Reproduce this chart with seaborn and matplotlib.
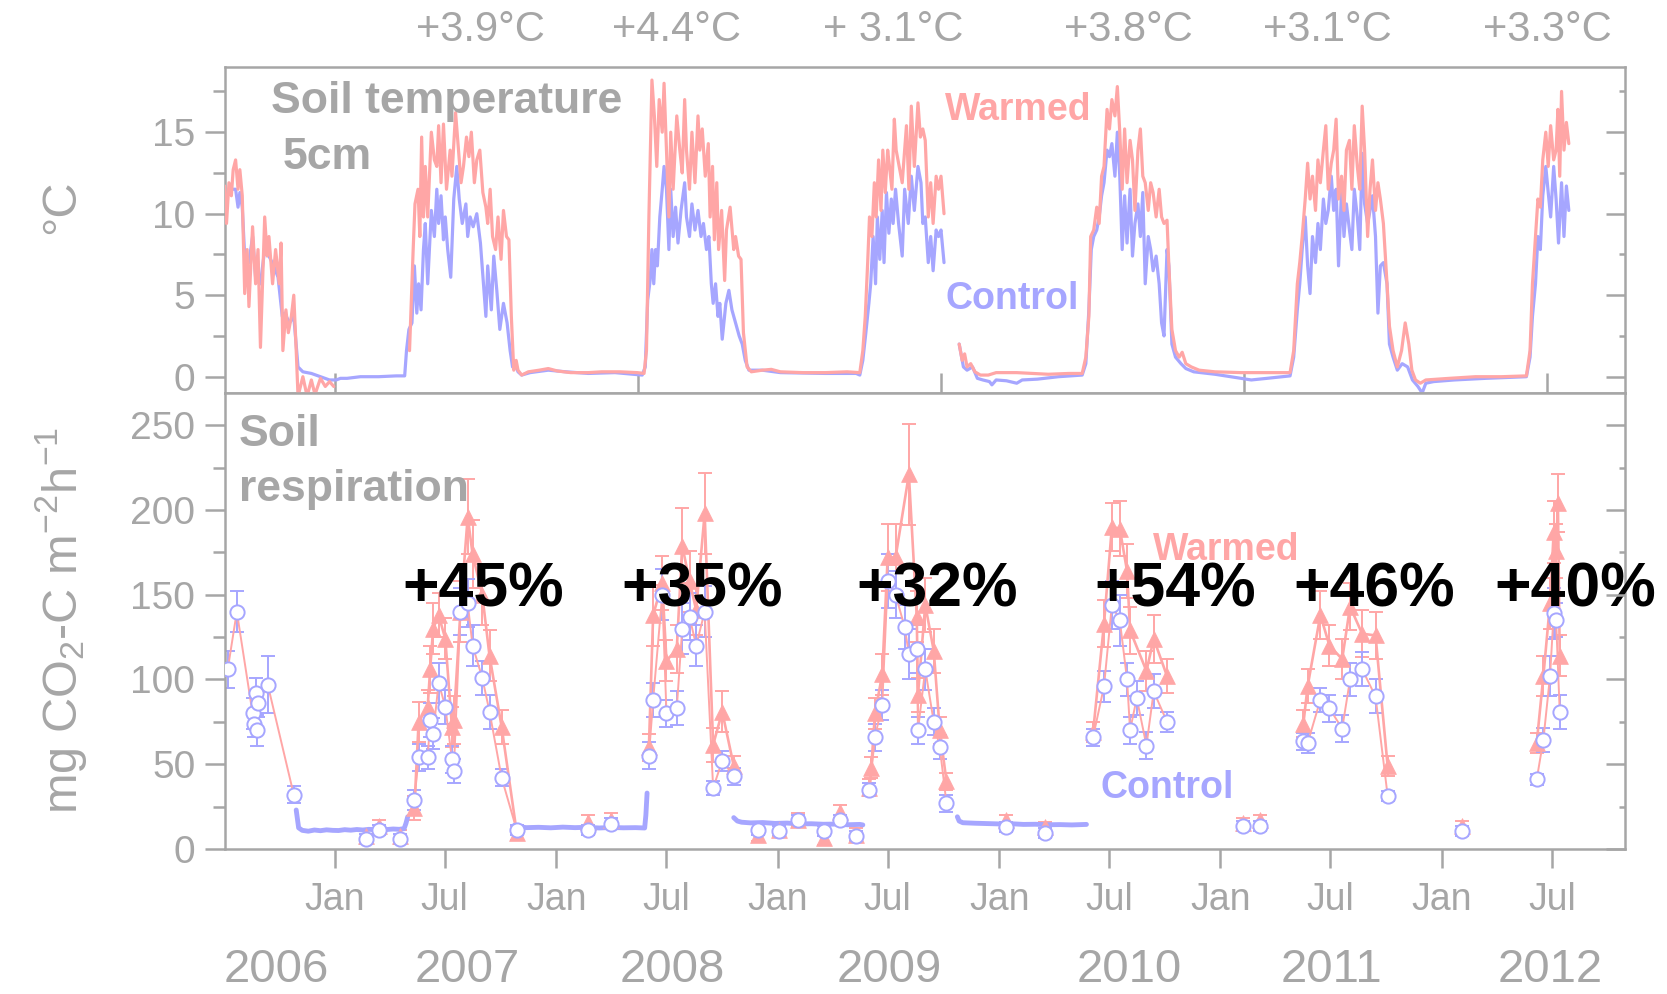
import numpy as np
import pandas as pd
import matplotlib
matplotlib.use("Agg")
import matplotlib.pyplot as plt
import matplotlib.dates as mdates
from matplotlib.ticker import MultipleLocator
from matplotlib.transforms import blended_transform_factory
import seaborn as sns

RECORD_START = pd.Timestamp("2006-07-01")   # day 0 of the site record

# ---------------- soil temperature at 5 cm: (day of record, degC) ----------------
CTRL_TEMP = [
    (2, 9.8), (5, 11.1), (13, 11.5), (20, 11.5), (24, 10.4), (27, 11.3), (31, 10.4), (35, 7.4), (42, 7.0),
    (48, 8.6), (53, 6.1), (61, 5.7), (68, 7.8), (75, 7.4), (83, 6.8), (90, 6.1), (97, 3.7), (101, 3.9),
    (109, 3.3), (116, 3.7), (123, 0.6), (131, 0.3), (145, 0.2), (160, 0.0), (175, -0.2), (186, -0.2),
    (193, -0.1), (204, -0.1), (226, 0.0), (256, 0.0), (285, 0.05), (299, 0.05), (302, 1.6), (306, 2.9),
    (311, 3.3), (315, 6.8), (319, 3.9), (322, 5.7), (326, 4.1), (330, 7.8), (333, 9.4), (337, 5.7),
    (343, 10.2), (348, 8.6), (352, 11.5), (355, 9.4), (359, 11.1), (363, 8.4), (366, 9.8), (370, 7.8),
    (375, 6.1), (380, 10.9), (385, 12.9), (389, 10.9), (394, 9.4), (400, 10.6), (403, 8.6), (407, 9.8),
    (412, 9.2), (418, 10.0), (424, 8.2), (429, 5.7), (433, 3.7), (436, 6.8), (442, 4.1), (446, 7.4),
    (451, 5.3), (456, 2.9), (462, 4.5), (468, 3.3), (473, 1.6), (477, 0.6), (481, 0.8), (486, 0.3),
    (492, 0.1), (506, 0.25), (536, 0.4), (565, 0.3), (602, 0.2), (646, 0.25), (691, 0.1), (696, 0.6),
    (700, 4.7), (704, 5.9), (707, 7.8), (710, 5.7), (713, 7.8), (716, 6.8), (720, 9.8), (724, 11.5),
    (727, 12.9), (731, 11.5), (735, 7.8), (738, 11.5), (742, 8.6), (746, 10.4), (750, 8.2), (755, 10.2),
    (761, 11.9), (764, 9.8), (769, 8.6), (773, 10.6), (778, 9.0), (783, 10.2), (788, 8.6), (792, 9.4),
    (797, 7.8), (801, 8.6), (805, 5.7), (808, 4.5), (812, 5.7), (816, 3.7), (819, 4.5), (823, 2.3),
    (829, 4.5), (834, 5.3), (839, 4.1), (845, 3.3), (851, 2.5), (856, 2.0), (861, 1.0), (867, 0.4),
    (889, 0.4), (919, 0.25), (993, 0.2), (1044, 0.2), (1050, 0.1), (1055, 1.0), (1060, 2.7), (1065, 4.5),
    (1068, 5.7), (1072, 8.6), (1076, 5.7), (1079, 9.8), (1083, 7.2), (1087, 10.2), (1090, 7.0),
    (1094, 11.3), (1098, 8.8), (1102, 10.9), (1105, 9.4), (1109, 11.5), (1114, 9.4), (1120, 7.4),
    (1124, 11.5), (1130, 9.4), (1135, 12.3), (1140, 10.2), (1146, 12.9), (1151, 11.9), (1154, 9.4),
    (1158, 9.8), (1163, 7.0), (1167, 8.6), (1171, 6.5), (1176, 9.0), (1180, 8.6), (1184, 9.0), (1189, 7.0),
    (1214, 2.0), (1221, 0.6), (1227, 0.4), (1236, 0.6), (1244, -0.1), (1253, -0.2), (1264, -0.3),
    (1268, -0.5), (1275, -0.2), (1292, -0.25), (1309, -0.4), (1318, -0.2), (1343, -0.15), (1378, 0.0),
    (1417, 0.1), (1423, 0.8), (1428, 4.1), (1432, 7.8), (1436, 8.6), (1441, 9.0), (1445, 9.8),
    (1449, 11.1), (1453, 11.9), (1458, 13.9), (1462, 13.5), (1466, 14.3), (1471, 12.3), (1475, 15.0),
    (1479, 12.3), (1483, 7.8), (1487, 11.1), (1491, 8.2), (1496, 11.5), (1500, 7.4), (1504, 9.4),
    (1509, 10.6), (1513, 8.6), (1517, 11.3), (1521, 5.7), (1526, 8.6), (1530, 7.8), (1534, 6.5),
    (1539, 7.4), (1544, 5.7), (1548, 3.3), (1552, 2.5), (1557, 7.8), (1560, 6.8), (1565, 2.0),
    (1571, 1.2), (1580, 0.8), (1588, 0.5), (1601, 0.3), (1636, 0.15), (1679, -0.1), (1696, -0.2),
    (1722, -0.1), (1760, 0.05), (1766, 1.2), (1772, 4.1), (1776, 5.7), (1780, 7.8), (1785, 9.8),
    (1789, 6.8), (1793, 5.1), (1797, 8.6), (1802, 7.0), (1806, 9.4), (1810, 7.8), (1815, 10.9),
    (1819, 9.4), (1823, 10.2), (1828, 12.3), (1832, 10.2), (1836, 11.5), (1840, 6.8), (1845, 11.5),
    (1849, 8.6), (1853, 10.6), (1858, 9.0), (1862, 7.8), (1866, 11.5), (1871, 9.8), (1875, 7.8),
    (1879, 13.7), (1883, 10.6), (1888, 9.4), (1892, 10.2), (1896, 11.1), (1901, 8.6), (1905, 3.9),
    (1909, 6.8), (1914, 7.0), (1920, 5.7), (1924, 2.0), (1930, 1.2), (1937, 0.4), (1945, 0.8),
    (1954, 0.6), (1962, -0.2), (1971, -0.6), (1978, -1.0), (1984, -0.4), (1997, -0.3), (2031, -0.2),
    (2083, -0.1), (2150, 0.0), (2156, 1.2), (2160, 3.7), (2165, 5.7), (2169, 8.6), (2173, 7.8),
    (2177, 11.1), (2182, 12.9), (2186, 11.3), (2190, 9.8), (2195, 12.9), (2199, 10.9), (2203, 8.2),
    (2208, 11.9), (2212, 8.6), (2216, 11.7), (2220, 10.2),
]

WARM_TEMP = [
    (2, 11.7), (5, 9.4), (9, 11.9), (13, 11.1), (16, 12.7), (20, 13.3), (24, 11.5), (27, 12.7), (31, 11.1),
    (35, 5.1), (39, 7.8), (42, 4.3), (48, 9.2), (53, 5.7), (57, 7.8), (61, 1.8), (68, 9.8), (72, 7.4),
    (75, 8.6), (81, 5.7), (86, 7.8), (92, 5.7), (95, 8.2), (98, 1.6), (103, 4.1), (107, 2.7), (112, 3.7),
    (116, 5.0), (120, 1.6), (123, -1.2), (131, 0.0), (138, -1.2), (145, -0.2), (151, -1.1), (160, -0.1),
    (168, -0.6), (175, -0.3), (182, -0.6),
    (307, 1.6), (313, 7.8), (316, 10.6), (321, 11.5), (324, 8.6), (327, 14.7), (330, 9.8), (333, 12.9),
    (337, 9.8), (343, 15.0), (348, 13.3), (352, 12.9), (355, 15.4), (359, 11.9), (363, 15.5), (368, 11.5),
    (374, 13.9), (377, 12.3), (383, 16.2), (387, 14.3), (392, 11.9), (396, 12.9), (401, 14.7), (405, 13.5),
    (409, 15.0), (414, 11.9), (418, 13.3), (423, 13.9), (428, 11.3), (433, 10.4), (436, 9.4), (440, 11.5),
    (444, 8.6), (449, 7.8), (453, 9.8), (458, 7.2), (462, 10.2), (467, 8.6), (471, 8.4), (475, 3.7),
    (479, 0.4), (483, 1.0), (486, 0.4), (492, 0.1), (503, 0.3), (521, 0.4), (536, 0.5), (551, 0.35),
    (573, 0.25), (602, 0.25), (624, 0.3), (654, 0.3), (683, 0.25), (694, 0.2), (698, 1.6), (702, 9.8),
    (707, 18.2), (711, 16.0), (715, 12.9), (719, 17.0), (724, 15.0), (727, 18.0), (731, 13.9), (735, 9.8),
    (738, 15.0), (742, 11.5), (748, 16.0), (753, 13.9), (757, 12.5), (761, 17.0), (764, 13.9), (769, 11.5),
    (773, 15.0), (778, 11.9), (783, 16.0), (786, 13.9), (790, 15.2), (795, 12.3), (800, 14.3), (803, 9.8),
    (807, 12.9), (810, 8.4), (814, 11.9), (817, 7.8), (822, 10.2), (827, 5.9), (830, 9.0), (836, 10.4),
    (842, 7.8), (845, 8.6), (850, 7.4), (854, 7.2), (858, 2.7), (864, 0.6), (871, 0.3), (889, 0.4),
    (904, 0.45), (919, 0.3), (956, 0.25), (993, 0.25), (1029, 0.3), (1050, 0.25), (1055, 1.6),
    (1059, 3.7), (1063, 7.0), (1066, 9.8), (1070, 8.6), (1074, 11.9), (1077, 9.8), (1081, 13.3),
    (1085, 10.2), (1088, 13.9), (1092, 11.3), (1096, 13.9), (1099, 12.9), (1103, 11.5), (1107, 15.8),
    (1110, 13.9), (1120, 11.9), (1127, 15.4), (1131, 11.5), (1135, 16.6), (1140, 12.9), (1146, 16.8),
    (1150, 14.7), (1154, 15.2), (1158, 14.5), (1163, 9.8), (1167, 11.9), (1171, 9.4), (1176, 12.3),
    (1180, 11.5), (1184, 12.3), (1189, 10.0),
    (1214, 2.0), (1219, 1.0), (1223, 1.4), (1227, 0.6), (1233, 0.8), (1240, 0.3), (1249, 0.1),
    (1262, 0.1), (1275, 0.25), (1309, 0.25), (1361, 0.15), (1395, 0.2), (1417, 0.2), (1423, 1.2),
    (1428, 3.7), (1431, 8.6), (1436, 9.0), (1441, 10.4), (1445, 9.4), (1449, 12.3), (1453, 12.9),
    (1458, 16.4), (1462, 15.2), (1466, 17.0), (1471, 16.0), (1475, 17.8), (1479, 15.0), (1483, 11.5),
    (1487, 15.2), (1491, 11.9), (1496, 14.5), (1500, 13.3), (1504, 10.2), (1509, 13.9), (1513, 15.2),
    (1517, 12.3), (1521, 11.9), (1526, 10.2), (1530, 11.9), (1534, 11.3), (1539, 9.8), (1544, 11.5),
    (1548, 9.8), (1552, 9.4), (1557, 9.6), (1560, 6.8), (1565, 2.9), (1571, 1.6), (1577, 1.2),
    (1582, 1.5), (1588, 0.8), (1597, 0.6), (1610, 0.4), (1636, 0.3), (1679, 0.25), (1722, 0.25),
    (1760, 0.25), (1766, 1.6), (1772, 5.7), (1776, 7.0), (1780, 8.6), (1785, 10.9), (1789, 13.1),
    (1793, 10.9), (1797, 12.3), (1802, 10.2), (1806, 13.3), (1810, 11.9), (1815, 13.9), (1819, 15.4),
    (1823, 11.5), (1828, 13.1), (1832, 13.9), (1836, 15.8), (1840, 10.9), (1845, 12.3), (1849, 10.2),
    (1853, 13.9), (1858, 14.5), (1862, 11.5), (1866, 15.4), (1871, 12.9), (1875, 11.5), (1879, 16.6),
    (1883, 13.9), (1888, 8.6), (1892, 11.5), (1896, 13.3), (1901, 10.2), (1905, 11.9), (1909, 10.9),
    (1914, 9.4), (1920, 5.7), (1924, 3.1), (1930, 1.6), (1937, 0.6), (1944, 1.6), (1950, 3.3),
    (1956, 2.0), (1961, 0.4), (1967, -0.2), (1975, -0.4), (1984, -0.2), (2023, -0.1), (2066, 0.0),
    (2109, 0.0), (2150, 0.05), (2156, 1.6), (2160, 5.7), (2165, 8.6), (2169, 10.9), (2173, 10.4),
    (2177, 13.3), (2182, 15.0), (2186, 12.9), (2190, 15.4), (2195, 13.3), (2199, 13.9), (2202, 16.4),
    (2205, 12.3), (2208, 17.5), (2212, 13.9), (2216, 15.6), (2220, 14.3),
]

# logger outages (first missing day, last missing day)
CTRL_TEMP_GAPS = [(1190, 1213)]
WARM_TEMP_GAPS = [(183, 306), (1190, 1213)]

# ---------------- soil respiration: (day of record, mg CO2-C m-2 h-1, s.e.) ----------------
CTRL_RESP = [
    (7, 106, 11), (22, 140, 12), (48, 80, 9), (51, 74, 8), (53, 92, 9), (56, 70, 9), (57, 86, 8),
    (73, 97, 17), (116, 32, 5), (235, 6, 3), (256, 11, 3), (291, 6, 3),
    (315, 29, 6), (322, 54, 8), (337, 54, 7), (341, 76, 10), (346, 68, 9), (355, 98, 12), (366, 84, 10),
    (377, 53, 8), (380, 46, 7), (391, 140, 14), (403, 145, 14), (411, 120, 12), (427, 101, 10),
    (439, 81, 10), (459, 42, 5), (484, 11, 3), (602, 11, 3), (639, 15, 3),
    (702, 55, 8), (709, 88, 10), (724, 150, 15), (731, 80, 8), (748, 83, 10), (757, 130, 15),
    (769, 137, 14), (780, 120, 12), (794, 140, 15), (808, 36, 4), (823, 52, 6), (842, 43, 5),
    (882, 11.5, 3), (917, 10.5, 3), (948, 17, 3), (991, 10.5, 3), (1018, 17, 3), (1044, 7.5, 3),
    (1066, 35, 4), (1075, 66, 8), (1087, 85, 9), (1096, 158, 16), (1109, 150, 14), (1124, 131, 13),
    (1131, 115, 15), (1144, 118, 14), (1146, 70, 8), (1158, 106, 12), (1172, 75, 8), (1182, 60, 7),
    (1193, 27, 5), (1292, 13, 3), (1356, 9.5, 3),
    (1435, 66, 5), (1453, 96, 9), (1466, 144, 14), (1479, 135, 15), (1491, 100, 10), (1496, 70, 8),
    (1507, 89, 10), (1523, 61, 8), (1535, 93, 10), (1557, 75, 6), (1683, 13.4, 3), (1711, 13.4, 3),
    (1782, 63.5, 5), (1789, 62.5, 6), (1810, 88, 7), (1825, 83, 8), (1846, 71, 8), (1859, 100, 10),
    (1879, 106, 10), (1901, 90, 10), (1921, 31.5, 3), (2044, 10.5, 3),
    (2167, 41, 3), (2178, 64.5, 7), (2189, 102, 12), (2195, 139, 15), (2199, 135, 10), (2205, 81, 10),
]

# warmed plots: measured from the first winter of treatment onwards
WARM_RESP = [
    (235, 7.4, 4), (256, 13.3, 4), (291, 7.4, 4),
    (315, 24, 7), (322, 75, 12), (337, 84, 10), (341, 106, 14), (346, 130, 15), (355, 138, 13),
    (366, 124, 12), (377, 72, 12), (380, 76, 14), (391, 140, 18), (403, 196, 22), (411, 174, 20),
    (427, 150, 18), (439, 114, 15), (459, 72, 10), (484, 9.5, 4), (602, 16, 4), (639, 17, 4),
    (702, 60, 8), (709, 138, 18), (724, 157, 16), (731, 111, 12), (748, 118, 14), (757, 179, 22),
    (769, 158, 18), (780, 141, 15), (794, 198, 24), (808, 61.5, 10), (823, 81, 12), (842, 49, 6),
    (882, 8.5, 4), (917, 11.5, 4), (948, 17.3, 4), (991, 6.5, 4), (1018, 22, 4), (1044, 8.5, 4),
    (1066, 36, 5), (1069, 48, 6), (1075, 80, 9), (1087, 103, 12), (1096, 172, 20), (1109, 172, 20),
    (1131, 221, 30), (1144, 137, 15), (1146, 91, 10), (1158, 144, 16), (1172, 117, 13), (1182, 70, 8),
    (1193, 40, 5), (1292, 17, 3), (1356, 13, 3),
    (1435, 69, 6), (1453, 133, 14), (1466, 190, 14), (1479, 189, 16), (1491, 164, 16), (1496, 129, 14),
    (1523, 105, 12), (1535, 124, 14), (1557, 102, 10), (1683, 15.4, 3), (1711, 17.3, 3),
    (1782, 74, 8), (1789, 96, 10), (1810, 138, 14), (1825, 120, 12), (1846, 112, 12), (1859, 143, 14),
    (1879, 127, 14), (1901, 126, 14), (1921, 49, 6), (2044, 13.4, 3),
    (2167, 62.5, 6), (2178, 102, 12), (2189, 145, 15), (2195, 187, 18), (2199, 176, 16), (2202, 204, 17),
    (2205, 114, 12),
]

# continuous winter flux on control plots: (day of record, mg CO2-C m-2 h-1)
WINTER_FLUX = [
    (120, 23), (124, 12.5), (130, 11), (140, 10.5), (150, 11.2), (160, 10.8), (170, 11.3), (180, 11),
    (190, 10.9), (200, 11.4), (210, 11.1), (220, 11.5), (230, 11.2), (240, 11.6), (250, 11.4), (260, 11.7),
    (270, 11.5), (280, 11.8), (290, 11.6), (298, 12.0), (301, 15), (304, 19),
    (480, 14), (490, 13), (500, 12.6), (520, 12.8), (540, 12.5), (560, 12.9), (580, 12.6), (600, 12.8),
    (620, 12.4), (640, 12.7), (660, 12.5), (680, 12.6), (695, 12.4), (697, 20), (699, 33),
    (842, 18.5), (848, 16.5), (855, 15.8), (870, 15.4), (890, 15.6), (910, 15.1), (930, 15.3), (950, 14.8),
    (970, 14.9), (990, 14.6), (1010, 14.7), (1030, 14.3), (1050, 14.5), (1055, 14.2),
    (1211, 19), (1214, 16.5), (1220, 15.5), (1240, 15.2), (1260, 15.0), (1280, 14.8), (1300, 14.9),
    (1320, 14.5), (1340, 14.6), (1360, 14.3), (1380, 14.4), (1400, 14.2), (1424, 14.5),
]

# chamber campaigns during the growing seasons (first day, last day)
GROWING_SEASONS = [(0, 130), (305, 490), (695, 850), (1060, 1200), (1430, 1560), (1775, 1925), (2160, 2215)]

SEASON_YEARS = ["2006", "2007", "2008", "2009", "2010", "2011", "2012"]
WARMING = ["+3.9°C", "+4.4°C", "+ 3.1°C", "+3.8°C", "+3.1°C", "+3.3°C"]
RESP_INCREASE = ["+45%", "+35%", "+32%", "+54%", "+46%", "+40%"]

# ---------------- style ----------------
GRAY = "#a6a6a6"
PINK = "#ffa6a6"
BLUE = "#a6a6ff"
REG = ["Liberation Sans", "DejaVu Sans"]

sns.set_style("ticks")
plt.rcParams.update({
    "font.family": REG,
    "mathtext.default": "regular",
    "axes.edgecolor": GRAY,
    "axes.linewidth": 1.8,
    "xtick.color": GRAY, "ytick.color": GRAY,
    "xtick.labelcolor": GRAY, "ytick.labelcolor": GRAY,
})


def to_date(days):
    return RECORD_START + pd.to_timedelta(np.asarray(days, dtype=float), unit="D")


def num(day):
    return mdates.date2num(RECORD_START + pd.Timedelta(days=day))


def temp_frame(pairs, gaps):
    day, val = map(np.asarray, zip(*pairs))
    seg = np.zeros(len(day), dtype=int)
    for start, _ in gaps:
        seg += (day > start).astype(int)
    return pd.DataFrame({"date": to_date(day), "value": val, "seg": seg})


def resp_frame(rows):
    day, val, se = map(np.asarray, zip(*rows))
    season = np.full(len(day), -1)
    for k, (a, b) in enumerate(GROWING_SEASONS):
        season[(day >= a) & (day <= b)] = k
    return pd.DataFrame({"date": to_date(day), "value": val, "se": se, "season": season})


ctrl_t = temp_frame(CTRL_TEMP, CTRL_TEMP_GAPS)
warm_t = temp_frame(WARM_TEMP, WARM_TEMP_GAPS)
ctrl_r = resp_frame(CTRL_RESP)
warm_r = resp_frame(WARM_RESP)
wday, wval = map(np.asarray, zip(*WINTER_FLUX))
winter = pd.DataFrame({"date": to_date(wday), "value": wval,
                       "seg": np.concatenate([[0], np.cumsum(np.diff(wday) > 60)])})

# ---------------- figure ----------------
W, H = 1667, 994
fig = plt.figure(figsize=(W / 100, H / 100), dpi=100)
left, right = 225 / W, 1625 / W
ax_t = fig.add_axes([left, 1 - 393 / H, right - left, (393 - 67) / H])
ax_r = fig.add_axes([left, 1 - 849 / H, right - left, (849 - 393) / H])

# soil temperature
sns.lineplot(data=ctrl_t, x="date", y="value", units="seg", estimator=None,
             color=BLUE, linewidth=2.3, ax=ax_t, legend=False, zorder=2)
sns.lineplot(data=warm_t, x="date", y="value", units="seg", estimator=None,
             color=PINK, linewidth=2.3, ax=ax_t, legend=False, zorder=3)

# soil respiration: seasonal chamber series are joined by thin salmon lines
ax_r.errorbar(warm_r["date"], warm_r["value"], yerr=warm_r["se"], fmt="none", ecolor=PINK,
              elinewidth=1.4, capsize=5, capthick=1.4, zorder=2)
ax_r.errorbar(ctrl_r["date"], ctrl_r["value"], yerr=ctrl_r["se"], fmt="none", ecolor=BLUE,
              elinewidth=1.4, capsize=5, capthick=1.4, zorder=2)
sns.lineplot(data=ctrl_r[ctrl_r["season"] >= 0], x="date", y="value", units="season",
             estimator=None, color=PINK, linewidth=1.4, ax=ax_r, legend=False, zorder=2.5)
sns.lineplot(data=warm_r[warm_r["season"] >= 0], x="date", y="value", units="season",
             estimator=None, color=PINK, linewidth=1.9, ax=ax_r, legend=False, zorder=3)
sns.lineplot(data=winter, x="date", y="value", units="seg", estimator=None,
             color=BLUE, linewidth=3.5, ax=ax_r, legend=False, zorder=3)
sns.scatterplot(data=warm_r, x="date", y="value", marker="^", s=130, color=PINK,
                edgecolor=PINK, linewidth=0.5, ax=ax_r, legend=False, zorder=4)
sns.scatterplot(data=ctrl_r, x="date", y="value", marker="o", s=105, color="white",
                edgecolor=BLUE, linewidth=1.4, ax=ax_r, legend=False, zorder=5)

# ---------------- axes ----------------
x0, x1 = num(2.5), num(2312.7)
for ax in (ax_t, ax_r):
    ax.set_xlim(x0, x1)
    ax.set_xlabel("")
    ax.set_ylabel("")
    for sp in ax.spines.values():
        sp.set_visible(True)
        sp.set_color(GRAY)
        sp.set_linewidth(1.8)

ax_t.set_ylim(-1, 19)
ax_r.set_ylim(0, 269)

# upper panel: ticks every 500 days along the shared edge
t_ticks = pd.date_range("2007-01-01", periods=5, freq="500D")
ax_t.set_xticks(mdates.date2num(t_ticks))
ax_t.tick_params(axis="x", which="major", direction="inout", length=29, width=1.8,
                 labelbottom=False, top=False, color=GRAY)

# lower panel: January / July ticks
r_ticks = pd.date_range("2007-01-01", "2012-07-01", freq="6MS")
ax_r.set_xticks(mdates.date2num(r_ticks), labels=[d.strftime("%b") for d in r_ticks],
                fontsize=27, color=GRAY)
ax_r.tick_params(axis="x", which="major", direction="out", length=13.7, width=1.8,
                 pad=10, top=False, color=GRAY)
ax_r.tick_params(axis="x", which="minor", bottom=False, top=False)

for ax, major, minor, lim in ((ax_t, 5, 2.5, (-1, 19)), (ax_r, 50, 25, (0, 269))):
    ax.yaxis.set_major_locator(MultipleLocator(major))
    ax.yaxis.set_minor_locator(MultipleLocator(minor))
    ax.tick_params(axis="y", which="major", direction="out", length=14.4, width=1.8,
                   labelsize=28, pad=7, right=False, color=GRAY)
    ax.tick_params(axis="y", which="minor", direction="out", length=8.3, width=1.8,
                   right=False, color=GRAY)
    twin = ax.twinx()
    twin.set_ylim(*lim)
    twin.yaxis.set_major_locator(MultipleLocator(major))
    twin.yaxis.set_minor_locator(MultipleLocator(minor))
    twin.tick_params(axis="y", which="major", direction="in", length=14, width=1.8,
                     labelright=False, color=GRAY)
    twin.tick_params(axis="y", which="minor", direction="in", length=4, width=1.8,
                     labelright=False, color=GRAY)
    for sp in twin.spines.values():
        sp.set_visible(False)

# ---------------- text ----------------
fig.text(62 / W, 1 - 207 / H, "°C", rotation=90, ha="center", va="center",
         fontsize=35, color=GRAY)
fig.text(61 / W, 1 - 620 / H, "mg CO$_2$-C m$^{-2}$h$^{-1}$", rotation=90, ha="center",
         va="center", fontsize=35, color=GRAY)

ax_t.text(0.033, 0.895, "Soil temperature", transform=ax_t.transAxes, ha="left", va="center",
          fontsize=32, fontweight="bold", color=GRAY)
ax_t.text(0.041, 0.722, "5cm", transform=ax_t.transAxes, ha="left", va="center",
          fontsize=32, fontweight="bold", color=GRAY)
ax_t.text(0.5664, 0.8696, "Warmed", transform=ax_t.transAxes, ha="center", va="center",
          fontsize=27, fontweight="bold", color=PINK)
ax_t.text(0.5621, 0.2883, "Control", transform=ax_t.transAxes, ha="center", va="center",
          fontsize=27, fontweight="bold", color=BLUE)

ax_r.text(0.010, 0.910, "Soil", transform=ax_r.transAxes, ha="left", va="center",
          fontsize=32, fontweight="bold", color=GRAY)
ax_r.text(0.010, 0.789, "respiration", transform=ax_r.transAxes, ha="left", va="center",
          fontsize=32, fontweight="bold", color=GRAY)
ax_r.text(0.715, 0.655, "Warmed", transform=ax_r.transAxes, ha="center", va="center",
          fontsize=27, fontweight="bold", color=PINK, zorder=1)
ax_r.text(0.673, 0.134, "Control", transform=ax_r.transAxes, ha="center", va="center",
          fontsize=27, fontweight="bold", color=BLUE)

for day, label in zip([428, 789, 1178, 1570, 1898, 2231], RESP_INCREASE):
    ax_r.text(num(day), 152.9, label, ha="center", va="center", fontsize=45,
              fontweight="bold", color="black", zorder=10)

top_tr = blended_transform_factory(ax_t.transData, fig.transFigure)
for day, label in zip([424, 747, 1105, 1494, 1821, 2184], WARMING):
    ax_t.text(num(day), 1 - 30 / H, label, transform=top_tr, ha="center", va="center",
              fontsize=30, color=GRAY, clip_on=False)

bot_tr = blended_transform_factory(ax_r.transData, fig.transFigure)
for day, label in zip([87, 403, 740, 1098, 1494, 1828, 2189], SEASON_YEARS):
    ax_r.text(num(day), 1 - 970 / H, label, transform=bot_tr, ha="center", va="center",
              fontsize=34, color=GRAY, clip_on=False)

fig.savefig("out.png", dpi=100, facecolor="white")
